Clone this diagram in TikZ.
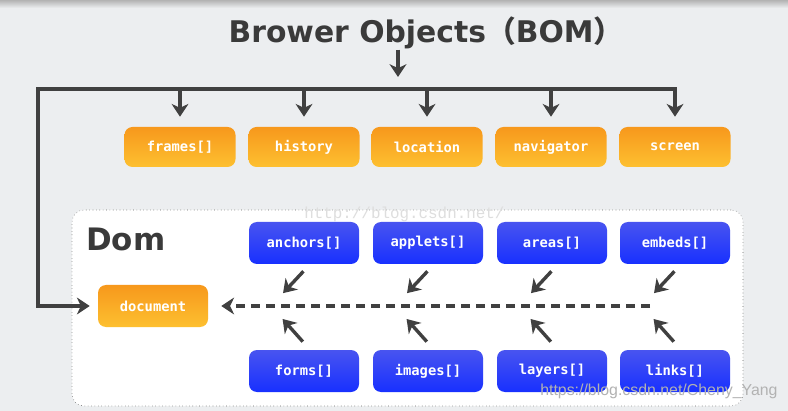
\documentclass[tikz,border=0pt]{standalone}
\usepackage{fontspec}
\setmainfont{DejaVu Sans}
\setmonofont{DejaVu Sans Mono}
\newfontfamily\cjkfont{Noto Sans CJK SC}
\newfontfamily\marksans{Liberation Sans}
\newfontfamily\markmono{Liberation Mono}
\usetikzlibrary{arrows.meta}
\definecolor{bomback}{RGB}{236,238,240}
\definecolor{bomline}{RGB}{64,64,64}
\definecolor{bomtitle}{RGB}{58,58,58}
\definecolor{orangetop}{RGB}{247,152,28}
\definecolor{orangebot}{RGB}{253,192,48}
\definecolor{bluetop}{RGB}{72,84,240}
\definecolor{bluebot}{RGB}{24,48,255}

\begin{document}
\begin{tikzpicture}[x=0.25mm,y=-0.25mm,>={Stealth[length=3.2mm,width=4.2mm,inset=1mm]}]
  \tikzstyle{every node}=[inner sep=0pt]
  \tikzstyle{obj}=[rounded corners=2mm, minimum width=27.75mm, minimum height=10mm, text=white,
                   font={\fontsize{9.8}{11}\selectfont\ttfamily\bfseries}]
  \tikzstyle{bom}=[obj, top color=orangetop, bottom color=orangebot]
  \tikzstyle{dom}=[obj, minimum width=27.5mm, minimum height=10.5mm, top color=bluetop, bottom color=bluebot]
  \tikzstyle{link}=[draw=bomline, line width=0.85mm, ->]
  \useasboundingbox (0,0) rectangle (788,411);
  \fill[bomback] (0,0) rectangle (788,411);
  \shade[top color=black!30, bottom color=bomback] (0,0) rectangle (788,8);
% title and the browser objects
  \node[font={\fontsize{21.2}{24}\selectfont\bfseries}, text=bomtitle, anchor=base] (title) at (426,43)
       {Brower Objects{\cjkfont （}BOM{\cjkfont ）}};
  \coordinate (split) at (398,89);
  \coordinate (barleft) at (38,89);
  \node[bom] (frames)    at (180,147) {frames[]};
  \node[bom] (history)   at (304,147) {history};
  \node[bom] (location)  at (427,147) {location};
  \node[bom] (navigator) at (551,147) {navigator};
  \node[bom] (screen)    at (675,147) {screen};
% the Dom panel
  \node[draw=black!60, dotted, fill=white, rounded corners=3mm, minimum width=167.75mm, minimum height=49mm]
       (dompanel) at (407.5,308) {};
  \node[font={\markmono\fontsize{11.3}{13}\selectfont}, text=black!13, anchor=base west] (mark) at (304,219)
       {http://blog.csdn.net/};
  \node[font={\fontsize{22}{26}\selectfont\bfseries}, text=bomtitle, anchor=base west] (domlabel) at (86,251) {Dom};
  \node[bom, minimum width=27.5mm, minimum height=10.5mm] (document) at (153,306) {document};
  \node[dom] (anchors) at (304,243) {anchors[]};
  \node[dom] (applets) at (428,243) {applets[]};
  \node[dom] (areas)   at (552,243) {areas[]};
  \node[dom] (embeds)  at (675,243) {embeds[]};
  \node[dom] (forms)   at (304,371) {forms[]};
  \node[dom] (images)  at (428,371) {images[]};
  \node[dom] (layers)  at (552,371) {layers[]};
  \node[dom] (links)   at (675,371) {links[]};
% connectors
  \draw[link, shorten >=3mm] (title.south -| split) -- (split);
  \draw[link, <->, shorten <=2mm, shorten >=2.5mm] (document.west) -| (barleft) -| (screen.north);
  \foreach \obj in {frames,history,location,navigator}{
    \draw[link, shorten >=2.5mm] (split -| \obj) -- (\obj.north);
  }
  \coordinate (dashend) at (650,306);
  \draw[link, line width=1.1mm, dash pattern=on 2.25mm off 1.5mm, shorten >=3.25mm] (dashend) -- (document.east);
  \foreach \up/\dn in {anchors/forms,applets/images,areas/layers,embeds/links}{
    \path (\up.south |- dashend) ++(-33,0) coordinate (hit);
    \draw[link, shorten <=2.4mm, shorten >=4.4mm] ([xshift=1.5mm]\up.south) -- (hit);
    \draw[link, shorten <=2.7mm, shorten >=4.35mm] ([xshift=1.5mm]\dn.north) -- (hit);
  }
  \node[font={\marksans\fontsize{11.3}{13}\selectfont}, text=black!30, anchor=base west] (credit) at (540,395)
       {https://blog.csdn.net/Cheny\_Yang};
\end{tikzpicture}
\end{document}
